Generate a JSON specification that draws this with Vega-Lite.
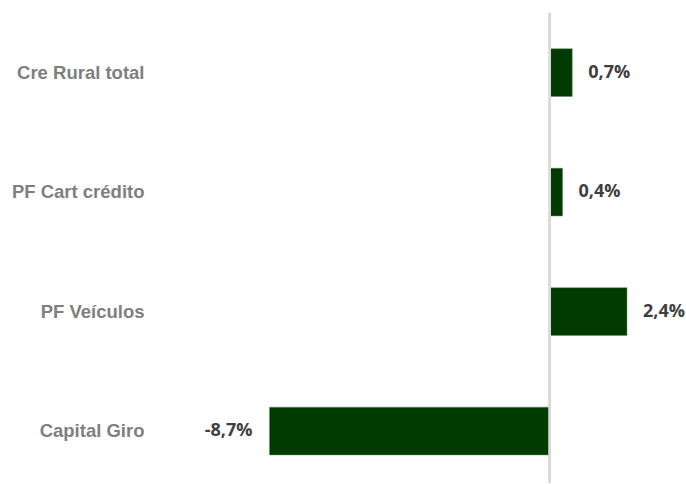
{
  "$schema": "https://vega.github.io/schema/vega-lite/v6.json",
  "autosize": "none",
  "width": 524,
  "height": 470,
  "padding": {"left": 160, "top": 13, "right": 2, "bottom": 1},
  "background": "white",
  "config": {"view": {"stroke": null}},
  "data": {"values": [
    {"cat": "Cre Rural total", "value": 0.7, "label": "0,7%"},
    {"cat": "PF Cart crédito", "value": 0.4, "label": "0,4%"},
    {"cat": "PF Veículos", "value": 2.4, "label": "2,4%"},
    {"cat": "Capital Giro", "value": -8.7, "label": "-8,7%"}
  ]},
  "encoding": {
    "y": {"field": "cat", "type": "nominal", "sort": null,
      "scale": {"paddingInner": 0.6, "paddingOuter": 0.267, "align": 0.56},
      "axis": {"title": null, "domain": false, "ticks": false, "labelPadding": 16,
        "labelFont": "Liberation Sans", "labelFontWeight": "bold", "labelFontSize": 18.5, "labelColor": "#7f7f7f"}},
    "x": {"field": "value", "type": "quantitative", "scale": {"domain": [-12.1, 4.17], "nice": false, "zero": false}, "axis": null}
  },
  "layer": [
    {"mark": {"type": "bar", "color": "#013b01", "stroke": "#6a8f6a", "strokeWidth": 0.5}},
    {"mark": {"type": "rule", "color": "#d9d9d9", "strokeWidth": 2},
     "encoding": {"x": {"datum": 0}, "y": {"value": 0}, "y2": {"value": 470}}},
    {"transform": [{"filter": "datum.value >= 0"}],
     "mark": {"type": "text", "align": "left", "baseline": "middle", "dx": 16, "font": "Open Sans", "fontWeight": "bold", "fontSize": 18, "color": "#404040"},
     "encoding": {"text": {"field": "label"}}},
    {"transform": [{"filter": "datum.value < 0"}],
     "mark": {"type": "text", "align": "right", "baseline": "middle", "dx": -17, "font": "Open Sans", "fontWeight": "bold", "fontSize": 18, "color": "#404040"},
     "encoding": {"text": {"field": "label"}}}
  ]
}
